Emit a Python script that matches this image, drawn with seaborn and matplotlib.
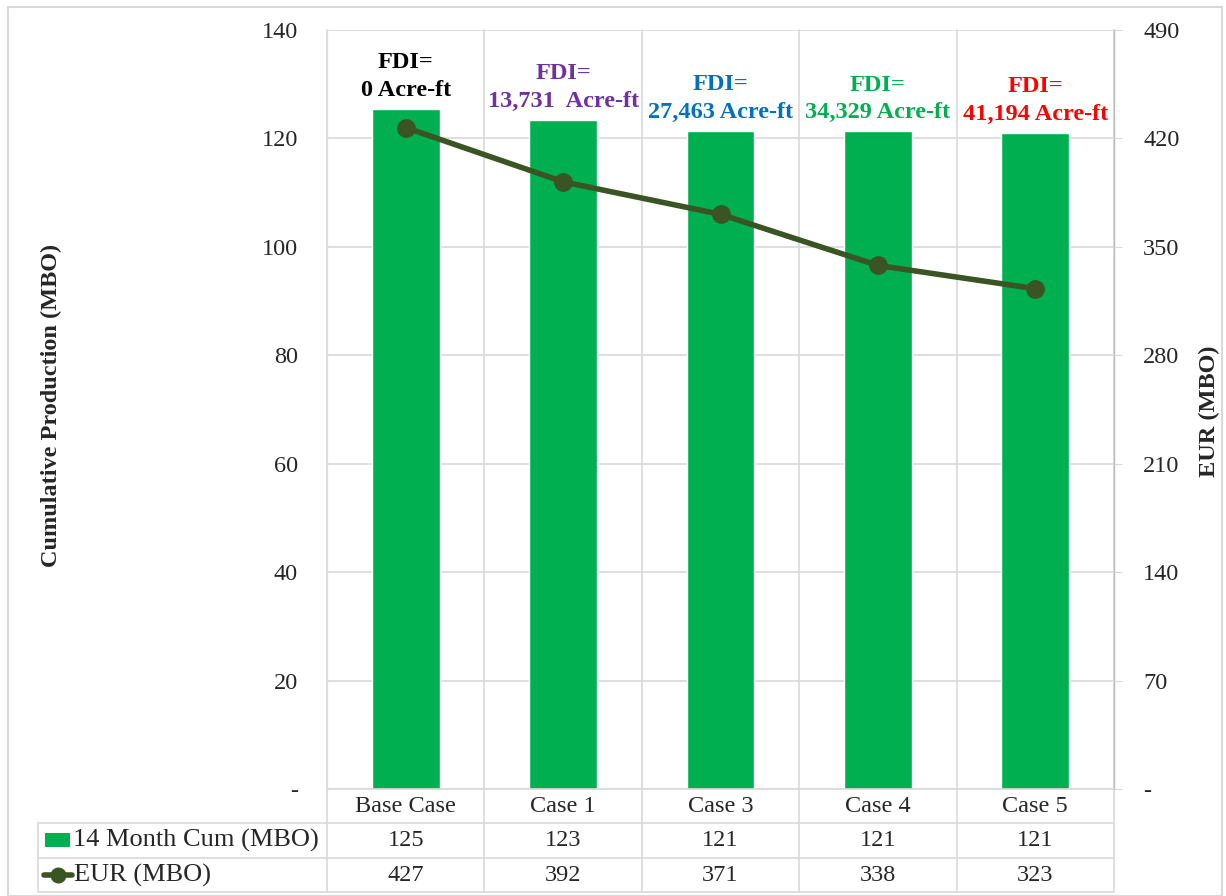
import seaborn as sns
import matplotlib.pyplot as plt
from matplotlib.lines import Line2D
from matplotlib.patches import Rectangle
from matplotlib.transforms import blended_transform_factory

# ------ data ------ #
cases = ["Base Case", "Case 1", "Case 3", "Case 4", "Case 5"]
cum_14m = [125.4, 123.4, 121.4, 121.3, 121.0]
eur = [427, 392, 371, 338, 323]
fdi_text = ["0 Acre-ft", "13,731  Acre-ft", "27,463 Acre-ft",
            "34,329 Acre-ft", "41,194 Acre-ft"]
fdi_colors = ["black", "#7030A0", "#0070C0", "#00B050", "#FF0000"]
left_ticks = [0, 20, 40, 60, 80, 100, 120, 140]
right_ticks = [0, 70, 140, 210, 280, 350, 420, 490]
row_names = ["14 Month Cum (MBO)", "EUR (MBO)"]

BAR_C = "#00B050"
LINE_C = "#3A5424"
GRID_C = "#D9D9D9"
FS = 17.5

sns.set_style("white")
plt.rcParams["font.family"] = ["Liberation Serif", "DejaVu Serif"]

W, H = 1226, 896
fig = plt.figure(figsize=(W / 100, H / 100), dpi=100, facecolor="w")


def fx(px):
    return px / W


def fy(py):
    return 1 - py / H


ax_l, ax_r, ax_t, ax_b = 327, 1114, 30, 789
ax = fig.add_axes([fx(ax_l), fy(ax_b), fx(ax_r - ax_l), (ax_b - ax_t) / H])
ax2 = ax.twinx()

# ------ bars + line ------ #
sns.barplot(x=cases, y=cum_14m, color=BAR_C, width=0.43, saturation=1,
            ax=ax, zorder=2)
sns.pointplot(x=cases, y=eur, color=LINE_C, markers="o", linestyles="-",
              markersize=10.5, linewidth=4, ax=ax2)

ax.set_xlim(-0.5, 4.5)
ax.set_ylim(0, 140)
ax2.set_ylim(0, 490)
ax.set_yticks(left_ticks)
ax.set_yticklabels(["-"] + [str(t) for t in left_ticks[1:]], fontsize=FS)
ax2.set_yticks(right_ticks)
ax2.set_yticklabels(["-"] + [str(t) for t in right_ticks[1:]], fontsize=FS)
ax.tick_params(axis="y", length=0, pad=21)
ax2.tick_params(axis="y", length=6, color=GRID_C, pad=15)
ax.set_xticks([])
ax.set_xlabel("")
ax.set_ylabel("")
ax2.set_ylabel("")

ax.grid(axis="y", color=GRID_C, lw=1.2, zorder=0)
ax.set_axisbelow(True)
for s in ["top", "bottom"]:
    ax.spines[s].set_visible(False)
    ax2.spines[s].set_visible(False)
ax.spines["left"].set_color(GRID_C)
ax2.spines["left"].set_visible(False)
ax2.spines["right"].set_color(GRID_C)
ax2.spines["right"].set_linewidth(1.2)

# ------ FDI annotations ------ #
for i, (t, c) in enumerate(zip(fdi_text, fdi_colors)):
    ax.annotate("FDI=\n" + t, (i, cum_14m[i]), xytext=(0, 6),
                textcoords="offset points", ha="center", va="bottom",
                fontsize=17.5, fontweight="bold", color=c, linespacing=1.4,
                zorder=5)

# ------ axis titles ------ #
fig.text(fx(51), fy(405), "Cumulative Production (MBO)", rotation=90,
         ha="center", va="center", fontsize=17.5, fontweight="bold")
fig.text(fx(1209), fy(411), "EUR (MBO)", rotation=90,
         ha="center", va="center", fontsize=17.5, fontweight="bold")

# ------ data table ------ #
tr = blended_transform_factory(ax.transData, fig.transFigure)
rows_y = [789, 823, 858, 892]
for xb in [k - 0.5 for k in range(len(cases) + 1)]:
    ax.add_line(Line2D([xb, xb], [fy(30), fy(892)], transform=tr,
                       color=GRID_C, lw=1.2, clip_on=False, zorder=1))
for py in rows_y[1:]:
    fig.add_artist(Line2D([fx(38), fx(ax_r)], [fy(py), fy(py)],
                          color=GRID_C, lw=1.2))
fig.add_artist(Line2D([fx(38), fx(38)], [fy(823), fy(892)],
                      color=GRID_C, lw=1.2))
fig.add_artist(Line2D([fx(ax_l), fx(ax_r)], [fy(789), fy(789)],
                      color=GRID_C, lw=1.2))

for i, name in enumerate(cases):
    ax.text(i, fy(806), name, transform=tr, ha="center", va="center",
            fontsize=FS)
    ax.text(i, fy(840), f"{cum_14m[i]:.0f}", transform=tr, ha="center",
            va="center", fontsize=FS)
    ax.text(i, fy(875), f"{eur[i]:.0f}", transform=tr, ha="center",
            va="center", fontsize=FS)

# legend keys in the row labels
fig.add_artist(Rectangle((fx(45), fy(847)), fx(25), 14 / H,
                         color=BAR_C, lw=0))
fig.add_artist(Line2D([fx(44), fx(58), fx(72)], [fy(875)] * 3, color=LINE_C,
                      lw=4, marker="o", markevery=[1], markersize=10.5))
fig.text(fx(73), fy(840), row_names[0], ha="left", va="center", fontsize=19)
fig.text(fx(74), fy(875), row_names[1], ha="left", va="center", fontsize=19)

# outer frame
fig.add_artist(Rectangle((fx(8), 0), fx(1214), fy(7), fill=False,
                         edgecolor=GRID_C, lw=1.5))

plt.savefig("out.png", dpi=100, facecolor="w")
